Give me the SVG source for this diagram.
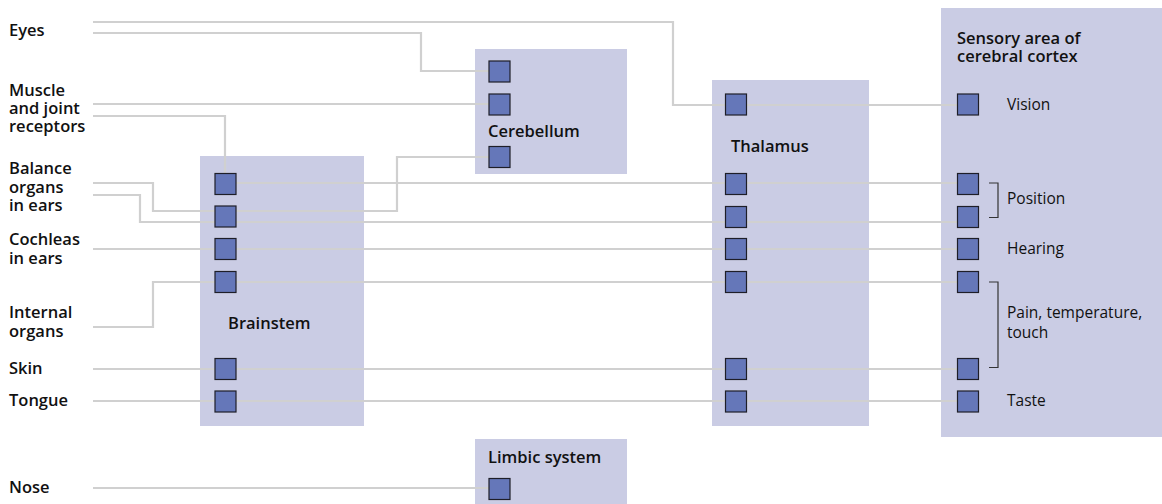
<svg xmlns="http://www.w3.org/2000/svg" width="1162" height="504" viewBox="0 0 1162 504">
<style>
.box{fill:#cacce4}
.sq{fill:#6577b9;stroke:#1e1e28;stroke-width:1.2}
.ln{fill:none;stroke:#d0d0d0;stroke-width:2.2}
.br{fill:none;stroke:#333;stroke-width:1.2}
.b{font-family:"Open Sans","Liberation Sans",sans-serif;font-weight:600;font-size:16.5px;fill:#111}
.r{font-family:"Open Sans","Liberation Sans",sans-serif;font-weight:400;font-size:15.5px;fill:#111}
</style>
<rect width="1162" height="504" fill="#fff"/>
<g id="boxes">
<rect id="brainstem-box" class="box" x="200" y="156" width="164" height="270"/>
<rect id="cerebellum-box" class="box" x="475" y="49" width="152" height="125"/>
<rect id="thalamus-box" class="box" x="712" y="80" width="157" height="346"/>
<rect id="cortex-box" class="box" x="941" y="8" width="221" height="429"/>
<rect id="limbic-box" class="box" x="475" y="439" width="152" height="65"/>
</g>
<g id="connectors">
<path class="ln" d="M93 22H673V105H957"/>
<path class="ln" d="M93 33H421V71H490"/>
<path class="ln" d="M93 104H490"/>
<path class="ln" d="M93 116H225V174"/>
<path class="ln" d="M93 183H153V211H397V157H490"/>
<path class="ln" d="M93 195H140V222H957"/>
<path class="ln" d="M236 183H957"/>
<path class="ln" d="M93 249H957"/>
<path class="ln" d="M93 327H153V282H957"/>
<path class="ln" d="M93 369H957"/>
<path class="ln" d="M93 401H957"/>
<path class="ln" d="M93 488H490"/>
</g>
<g id="labels">
<text class="b" x="9" y="36">Eyes</text>
<text class="b" x="9" y="96">Muscle<tspan x="9" y="114">and joint</tspan><tspan x="9" y="132">receptors</tspan></text>
<text class="b" x="9" y="174">Balance<tspan x="9" y="192.5">organs</tspan><tspan x="9" y="211">in ears</tspan></text>
<text class="b" x="9" y="245">Cochleas<tspan x="9" y="263.5">in ears</tspan></text>
<text class="b" x="9" y="318">Internal<tspan x="9" y="336.5">organs</tspan></text>
<text class="b" x="9" y="374">Skin</text>
<text class="b" x="9" y="406">Tongue</text>
<text class="b" x="9" y="493">Nose</text>
</g>
<g id="brainstem">
<rect class="sq" x="215" y="173.5" width="21" height="21"/>
<rect class="sq" x="215" y="206" width="21" height="21"/>
<rect class="sq" x="215" y="238.5" width="21" height="21"/>
<rect class="sq" x="215" y="271.5" width="21" height="21"/>
<rect class="sq" x="215" y="358.5" width="21" height="21"/>
<rect class="sq" x="215" y="391" width="21" height="21"/>
<text class="b" x="228" y="329">Brainstem</text>
</g>
<g id="cerebellum">
<rect class="sq" x="489" y="61" width="21" height="21"/>
<rect class="sq" x="489" y="94" width="21" height="21"/>
<rect class="sq" x="489" y="146.5" width="21" height="21"/>
<text class="b" x="488" y="136.5">Cerebellum</text>
</g>
<g id="thalamus">
<rect class="sq" x="725.5" y="94" width="21" height="21"/>
<rect class="sq" x="725.5" y="173.5" width="21" height="21"/>
<rect class="sq" x="725.5" y="206.5" width="21" height="21"/>
<rect class="sq" x="725.5" y="238.5" width="21" height="21"/>
<rect class="sq" x="725.5" y="271.5" width="21" height="21"/>
<rect class="sq" x="725.5" y="358.5" width="21" height="21"/>
<rect class="sq" x="725.5" y="391" width="21" height="21"/>
<text class="b" x="731" y="151.5">Thalamus</text>
</g>
<g id="cortex">
<text class="b" x="957" y="44">Sensory area of<tspan x="957" y="61.5">cerebral cortex</tspan></text>
<rect class="sq" x="957.5" y="94" width="21" height="21"/>
<rect class="sq" x="957.5" y="173.5" width="21" height="21"/>
<rect class="sq" x="957.5" y="206.5" width="21" height="21"/>
<rect class="sq" x="957.5" y="238.5" width="21" height="21"/>
<rect class="sq" x="957.5" y="271.5" width="21" height="21"/>
<rect class="sq" x="957.5" y="358.5" width="21" height="21"/>
<rect class="sq" x="957.5" y="391" width="21" height="21"/>
<path class="br" d="M989 183H998V217.5H989"/>
<path class="br" d="M989 282H998V367.5H989"/>
<text class="r" x="1007" y="110">Vision</text>
<text class="r" x="1007" y="203.5">Position</text>
<text class="r" x="1007" y="254">Hearing</text>
<text class="r" x="1007" y="318">Pain, temperature,<tspan x="1007" y="338">touch</tspan></text>
<text class="r" x="1007" y="406">Taste</text>
</g>
<g id="limbic">
<rect class="sq" x="489" y="478.5" width="21" height="21"/>
<text class="b" x="488" y="462.5">Limbic system</text>
</g>
</svg>
